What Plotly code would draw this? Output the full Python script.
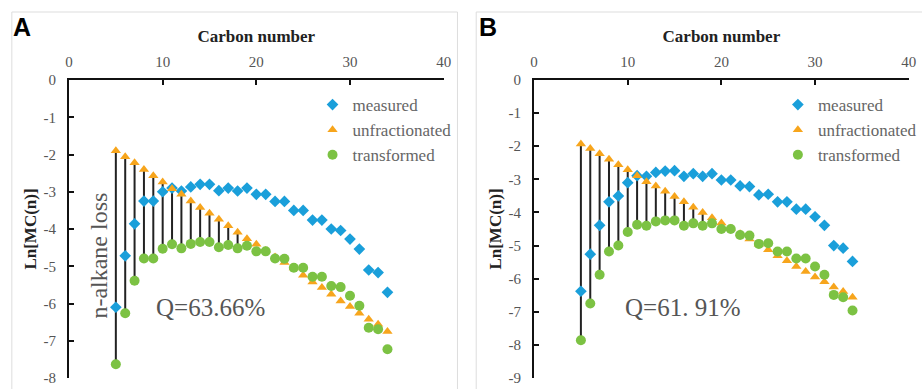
import plotly.graph_objects as go

# ---- data -------------------------------------------------------------
carbons = list(range(5, 35))

# Panel A
measured_a = [-6.10, -4.72, -3.86, -3.25, -3.25, -3.00, -2.90, -2.98, -2.87, -2.80,
              -2.80, -2.97, -2.90, -2.98, -2.90, -3.07, -3.07, -3.26, -3.26, -3.50,
              -3.50, -3.76, -3.76, -4.00, -4.04, -4.27, -4.54, -5.10, -5.17, -5.70]
unfrac_a = [-1.90, -2.06, -2.22, -2.40, -2.57, -2.74, -2.92, -3.07, -3.25, -3.42,
            -3.58, -3.74, -3.91, -4.09, -4.26, -4.41, -4.58, -4.75, -4.90, -5.05,
            -5.24, -5.42, -5.57, -5.75, -5.93, -6.08, -6.26, -6.42, -6.56, -6.75]
trans_a = [-7.63, -6.26, -5.39, -4.79, -4.79, -4.53, -4.41, -4.52, -4.40, -4.35,
           -4.35, -4.49, -4.43, -4.52, -4.45, -4.60, -4.60, -4.79, -4.80, -5.04,
           -5.04, -5.28, -5.28, -5.53, -5.56, -5.79, -6.06, -6.65, -6.69, -7.23]

# Panel B
measured_b = [-6.38, -5.26, -4.39, -3.68, -3.50, -3.10, -2.89, -2.91, -2.79, -2.75,
              -2.74, -2.91, -2.83, -2.91, -2.83, -3.02, -3.02, -3.20, -3.22, -3.47,
              -3.45, -3.68, -3.68, -3.90, -3.90, -4.13, -4.39, -5.00, -5.08, -5.48]
unfrac_b = [-1.93, -2.07, -2.23, -2.39, -2.56, -2.71, -2.89, -3.07, -3.20, -3.36,
            -3.52, -3.68, -3.84, -4.00, -4.16, -4.32, -4.48, -4.64, -4.80, -4.96,
            -5.13, -5.31, -5.46, -5.63, -5.78, -5.95, -6.09, -6.25, -6.39, -6.56]
trans_b = [-7.86, -6.75, -5.88, -5.18, -5.00, -4.59, -4.37, -4.40, -4.27, -4.24,
           -4.24, -4.40, -4.33, -4.40, -4.33, -4.50, -4.50, -4.68, -4.70, -4.95,
           -4.93, -5.18, -5.18, -5.39, -5.39, -5.63, -5.88, -6.49, -6.56, -6.96]

loss_max_carbon = 19          # loss bars are drawn for C5..C19
q_a = "Q=63.66%"
q_b = "Q=61. 91%"
x_ticks = [0, 10, 20, 30, 40]
y_ticks_a = list(range(-8, 1))
y_ticks_b = list(range(-9, 1))

# ---- styling ------------------------------------------------------------
W, H = 922, 389
SERIF = "Liberation Serif, Times New Roman, serif"
SANS = "Liberation Sans, Arial, sans-serif"
BLUE, ORANGE, GREEN = "#1a9fda", "#f7a51c", "#7cc243"
TICK_COLOR = "#555555"


def fx(px):
    return px / W


def fy(py):
    return 1 - py / H


def loss_segments(xs, top, bottom):
    lx, ly = [], []
    for c, t, b in zip(xs, top, bottom):
        if c <= loss_max_carbon:
            lx += [c, c, None]
            ly += [t, b, None]
    return lx, ly


fig = go.Figure()

panels = [
    ("x", "y", "legend", measured_a, unfrac_a, trans_a),
    ("x2", "y2", "legend2", measured_b, unfrac_b, trans_b),
]
for xa, ya, leg, meas, unf, tr in panels:
    lx, ly = loss_segments(carbons, unf, tr)
    fig.add_trace(go.Scatter(x=lx, y=ly, mode="lines", xaxis=xa, yaxis=ya,
                             line=dict(color="#222222", width=2),
                             showlegend=False, hoverinfo="skip"))
    fig.add_trace(go.Scatter(x=carbons, y=meas, mode="markers", name="measured",
                             xaxis=xa, yaxis=ya, legend=leg, legendgroup="m" + xa,
                             marker=dict(symbol="diamond", size=9, color=BLUE)))
    fig.add_trace(go.Scatter(x=carbons, y=unf, mode="markers", name="unfractionated",
                             xaxis=xa, yaxis=ya, legend=leg, legendgroup="u" + xa,
                             marker=dict(symbol="triangle-up", size=9, color=ORANGE)))
    fig.add_trace(go.Scatter(x=carbons, y=tr, mode="markers", name="transformed",
                             xaxis=xa, yaxis=ya, legend=leg, legendgroup="t" + xa,
                             marker=dict(symbol="circle", size=10, color=GREEN)))

axis_common = dict(showline=True, linecolor="#111111", linewidth=2,
                   ticks="inside", ticklen=5, tickwidth=2, tickcolor="#111111",
                   showgrid=False, zeroline=False, automargin=False,
                   tickfont=dict(family=SERIF, size=15, color=TICK_COLOR))

xt = dict(side="top", range=[0, 40], tickvals=x_ticks,
          ticktext=[str(v) for v in x_ticks], ticklabelstandoff=5,
          title=dict(text="<b>Carbon number</b>", standoff=7,
                     font=dict(family=SERIF, size=17, color="#222222")))
yt = dict(ticklabelstandoff=8,
          title=dict(text="<b>Ln[MC(n)]</b>", standoff=3,
                     font=dict(family=SERIF, size=17, color="#222222")))

legend_style = dict(xanchor="left", yanchor="top", bgcolor="rgba(0,0,0,0)",
                    tracegroupgap=0, itemwidth=30,
                    font=dict(family=SERIF, size=17, color="#666666"))

y_dom = [fy(378), fy(80)]
fig.update_layout(
    width=W, height=H,
    margin=dict(l=0, r=0, t=0, b=0),
    font=dict(family=SERIF),
    paper_bgcolor="white", plot_bgcolor="white",
    xaxis=dict(domain=[fx(70), fx(450)], anchor="y", **xt, **axis_common),
    yaxis=dict(domain=y_dom, anchor="x", range=[-8, 0], tickvals=y_ticks_a,
               ticktext=[str(v) for v in y_ticks_a], **yt, **axis_common),
    xaxis2=dict(domain=[fx(541.7), fx(921.7)], anchor="y2", **xt, **axis_common),
    yaxis2=dict(domain=y_dom, anchor="x2", range=[-9, 0], tickvals=y_ticks_b,
                ticktext=[str(v) for v in y_ticks_b], **yt, **axis_common),
    legend=dict(x=fx(317), y=fy(87), **legend_style),
    legend2=dict(x=fx(789), y=fy(87), **legend_style),
)

# panel frames
fig.add_shape(type="rect", xref="paper", yref="paper",
              x0=fx(12), x1=fx(464), y0=fy(400), y1=fy(12),
              line=dict(color="#dddddd", width=1), layer="below")
fig.add_shape(type="rect", xref="paper", yref="paper",
              x0=fx(483), x1=fx(940), y0=fy(400), y1=fy(12),
              line=dict(color="#dddddd", width=1), layer="below")

# panel letters and in-plot text
def note(text, px, py, size, color, family=SERIF, angle=0):
    fig.add_annotation(text=text, xref="paper", yref="paper", x=fx(px), y=fy(py),
                       xanchor="center", yanchor="middle", textangle=angle,
                       showarrow=False, font=dict(family=family, size=size, color=color))


note("<b>A</b>", 22, 27, 25, "#000000", SANS)
note("<b>B</b>", 495, 27, 25, "#000000", SANS)
note("n-alkane loss", 100, 256, 24, "#555555", angle=-90)
note(q_a, 214, 307, 25, "#555555")
note(q_b, 692, 307, 25, "#555555")

fig.write_html("out.html")
